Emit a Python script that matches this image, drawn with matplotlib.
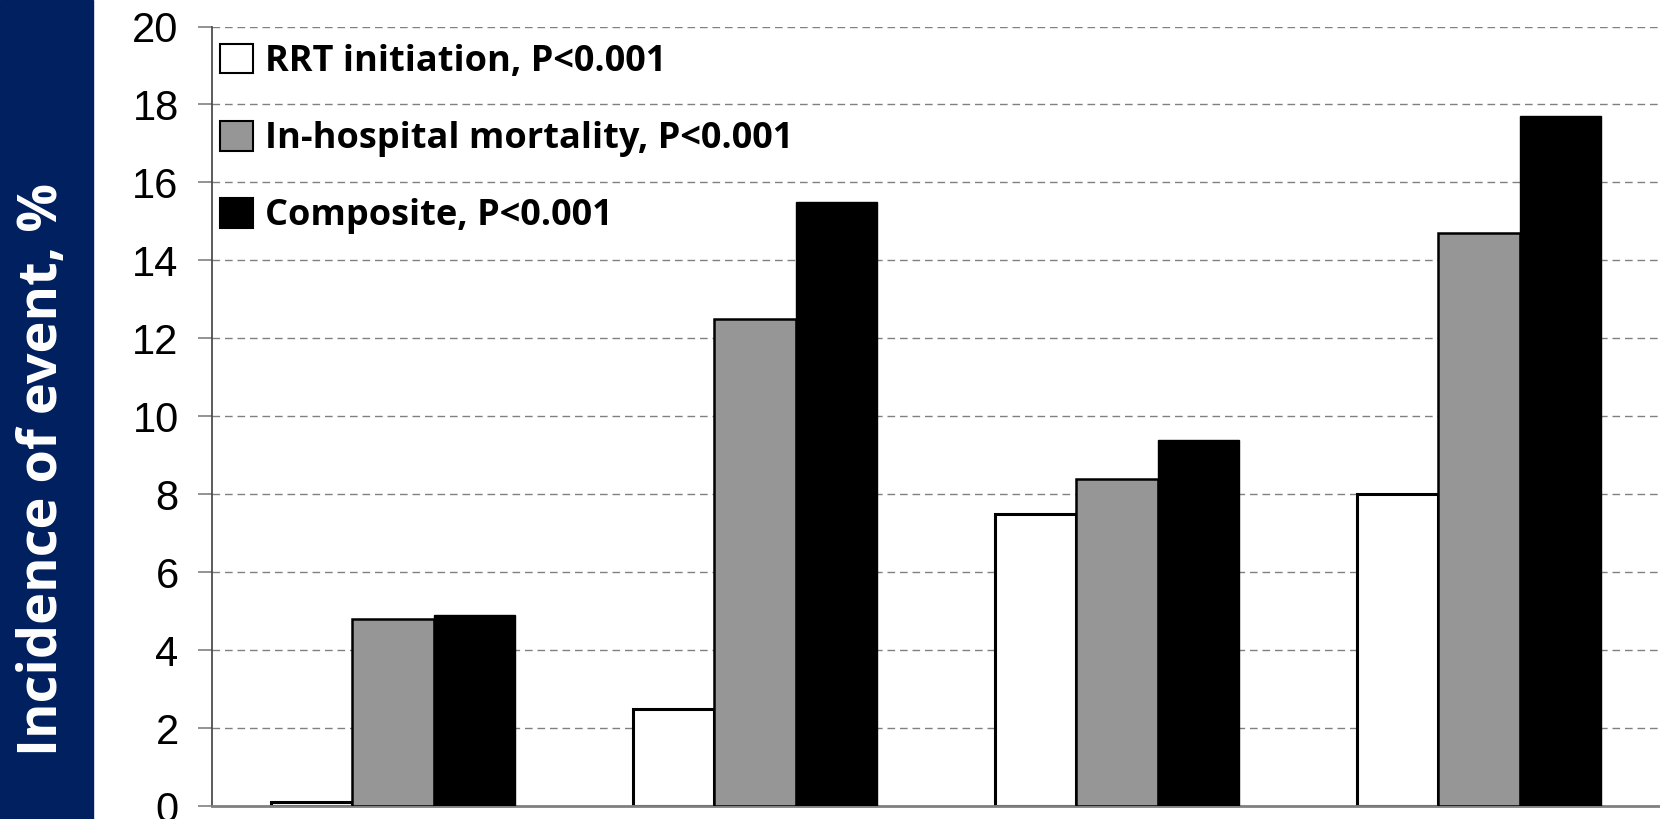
import matplotlib
matplotlib.use("Agg")
import matplotlib.pyplot as plt
from matplotlib.patches import Rectangle, Patch
import numpy as np

# Incidence (%) for the four groups, per outcome
groups = ["G1", "G2", "G3", "G4"]
rrt_initiation = [0.1, 2.5, 7.5, 8.0]
inhospital_mortality = [4.8, 12.5, 8.4, 14.7]
composite = [4.9, 15.5, 9.4, 17.7]

series_labels = [
    "RRT initiation, P<0.001",
    "In-hospital mortality, P<0.001",
    "Composite, P<0.001",
]
y_ticks = [0, 2, 4, 6, 8, 10, 12, 14, 16, 18, 20]
y_label = "Incidence of event, %"

W, H = 1660, 819
fig = plt.figure(figsize=(W / 100, H / 100), dpi=100)

# navy band carrying the y label
fig.add_artist(Rectangle((0, 0), 93 / W, 1, transform=fig.transFigure,
                         color="#002060", zorder=0))
fig.text(43 / W, 1 - 469 / H, y_label, rotation=90, ha="center", va="center",
         color="white", fontsize=39, fontweight="bold", family="Open Sans")

ax = fig.add_axes([212 / W, 1 - 806 / H, (W - 212) / W, (806 - 26.5) / H])

x = np.arange(len(groups))
width = 0.225
ax.bar(x - width, rrt_initiation, width, color="white", edgecolor="black",
       linewidth=2.2, label=series_labels[0], zorder=2)
ax.bar(x, inhospital_mortality, width, color="#969696", edgecolor="black",
       linewidth=1.8, label=series_labels[1], zorder=3)
ax.bar(x + width, composite, width, color="black", edgecolor="black",
       linewidth=1.0, label=series_labels[2], zorder=3)

ax.set_xlim(-0.5, len(groups) - 0.5)
ax.set_ylim(0, 20)
ax.set_yticks(y_ticks)
ax.set_xticks([])

ax.set_axisbelow(True)
ax.yaxis.grid(True, linestyle=(0, (5.5, 3.5)), color="#808080", linewidth=1.0)

for side in ("top", "right"):
    ax.spines[side].set_visible(False)
ax.spines["left"].set_color("#404040")
ax.spines["left"].set_linewidth(1.2)
ax.spines["bottom"].set_color("#808080")
ax.spines["bottom"].set_linewidth(2.0)

ax.tick_params(axis="y", direction="out", length=10, width=1.2, color="#808080",
               pad=14, labelsize=30)
for lbl in ax.get_yticklabels():
    lbl.set_family("Liberation Sans")

handles = [
    Patch(facecolor="white", edgecolor="black", linewidth=1.5),
    Patch(facecolor="#969696", edgecolor="black", linewidth=1.5),
    Patch(facecolor="black", edgecolor="black", linewidth=1.5),
]
leg = ax.legend(handles, series_labels, loc="upper left",
                bbox_to_anchor=(8 / (W - 212), 1 - 17 / (806 - 26.5)),
                borderaxespad=0, borderpad=0, frameon=False,
                handlelength=0.9, handleheight=0.9, handletextpad=0.35,
                labelspacing=1.13,
                prop={"family": "Open Sans", "weight": "bold", "size": 26})

fig.savefig("out.png", dpi=100)
